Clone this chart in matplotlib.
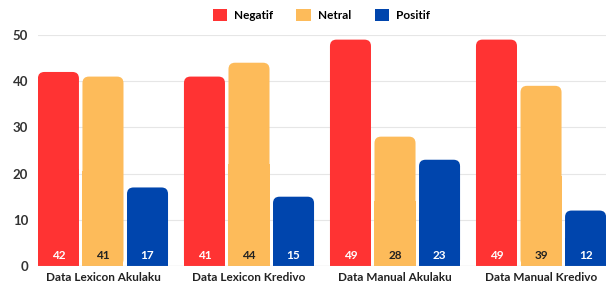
import matplotlib.pyplot as plt
import numpy as np
from matplotlib.patches import FancyBboxPatch, Rectangle

plt.rcParams['font.family'] = ['Lato', 'DejaVu Sans']

categories = ['Data Lexicon Akulaku', 'Data Lexicon Kredivo',
              'Data Manual Akulaku', 'Data Manual Kredivo']
negatif = [42, 41, 49, 49]
netral = [41, 44, 28, 39]
positif = [17, 15, 23, 12]
series = [('Negatif', negatif, '#ff3333', 'white'),
          ('Netral', netral, '#fdbb5a', '#222222'),
          ('Positif', positif, '#0045ad', 'white')]

fig = plt.figure(figsize=(6.06, 2.84), dpi=100)
ax = fig.add_axes([38 / 606, 1 - 266 / 284, 1 - 38 / 606, (266 - 35) / 284])

x = np.arange(len(categories))
w = 0.281
offs = [-0.305, 0, 0.305]
ax.set_xlim(-0.445, 3.445)
ax.set_ylim(0, 50)

# aspect so rounded corners look circular in pixels
x_per_px = (3.445 + 0.445) / 568
y_per_px = 50 / 231
asp = y_per_px / x_per_px
r = 6.5 * x_per_px

for (name, vals, col, tcol), off in zip(series, offs):
    bars = ax.bar(x + off, vals, w, color=col, label=name)
    for b, v in zip(bars, vals):
        b.set_visible(False)
        bx, bw = b.get_x(), b.get_width()
        ax.add_patch(FancyBboxPatch((bx, 0), bw, v,
                                    boxstyle=f"round,pad=0,rounding_size={r}",
                                    mutation_aspect=asp, fc=col, ec='none', zorder=3))
        ax.add_patch(Rectangle((bx, 0), bw, v / 2, fc=col, ec='none', zorder=3))
        ax.text(bx + bw / 2, 2.2, str(v), ha='center', va='center',
                color=tcol, fontsize=8.5, fontweight='bold', zorder=4)

ax.set_yticks([0, 10, 20, 30, 40, 50])
ax.grid(axis='y', color='#e6e6e6', linewidth=0.8, zorder=0)
ax.set_axisbelow(True)
for s in ax.spines.values():
    s.set_visible(False)
ax.axhline(0, color='#bbbbbb', linewidth=0.8, zorder=5)
ax.tick_params(axis='y', length=0, labelsize=9.5, labelcolor='#333333', pad=7)
ax.tick_params(axis='x', length=0, pad=4)
ax.set_xticks(x)
ax.set_xticklabels(categories, fontsize=8.5, fontweight='bold', color='#222222')
for lbl in ax.get_yticklabels():
    lbl.set_fontweight('bold')

handles = [Rectangle((0, 0), 1, 1, fc=c) for _, _, c, _ in series]
fig.legend(handles, [s[0] for s in series], loc='center', bbox_to_anchor=(0.53, 1 - 15 / 284),
           ncol=3, frameon=False, handlelength=1.2, handleheight=1.2,
           columnspacing=2.0, handletextpad=0.6, prop={'weight': 'bold', 'size': 8.5})

plt.savefig('out.png', dpi=100)
